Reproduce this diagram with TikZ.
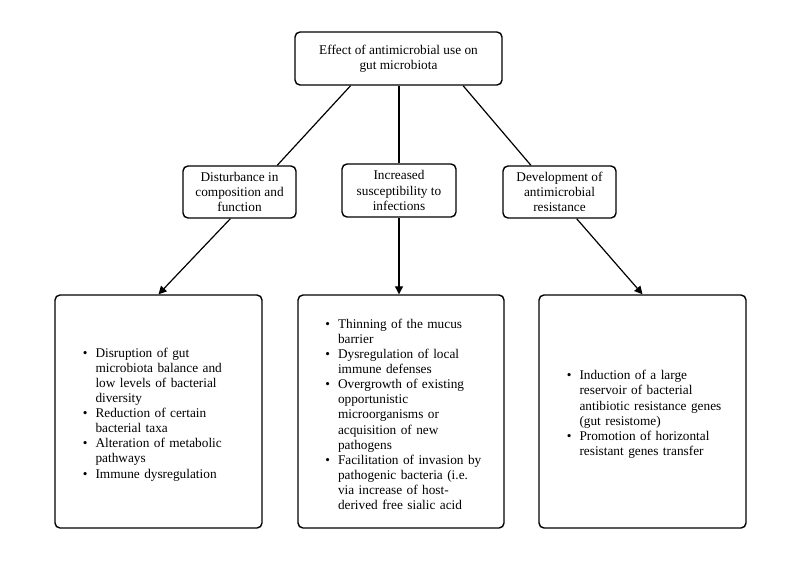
\documentclass[tikz,border=0pt]{standalone}
\usepackage{fontspec}
\setmainfont{Liberation Serif}
\usepackage{enumitem}
\usetikzlibrary{calc,arrows.meta}
\setlist[itemize]{nosep,leftmargin=12pt,labelsep=8pt,rightmargin=-20pt}
\tikzset{
	box/.style={draw, line width=1.4pt, rounded corners=5pt, align=center, font=\fontsize{13.3}{15.1}\selectfont},
	listbox/.style={draw, line width=1.4pt, rounded corners=5pt, text width=150pt, align=left, font=\fontsize{13.3}{15.1}\selectfont},
	link/.style={line width=1.2pt},
	arrowlink/.style={line width=1.2pt, -{Triangle[length=8pt,width=8pt]}}
}

\begin{document}
\begin{tikzpicture}[x=1pt,y=-1pt]
			%%%%% START %%%%%
			\def\wtop{207}
			\def\wmid{113}
			\def\hmid{52}
			\def\wlow{207}
			\def\hlow{233}
			\def\ymid{192}
			\def\ylow{411.5}
			
			\useasboundingbox[fill=white] (0,0) rectangle (800,560);
			
			\node[box, minimum width=\wtop, minimum height=53] (effect) at (398.5,58.5) {Effect of antimicrobial use on\\gut microbiota};
			
			\node[box, minimum width=\wmid, minimum height=\hmid] (disturb) at (239.5,\ymid) {Disturbance in\\composition and\\function};
			\node[box, minimum width=114, minimum height=53] (suscept) at (399,190.5) {Increased\\susceptibility to\\infections};
			\node[box, minimum width=\wmid, minimum height=\hmid] (resist) at (559.5,\ymid) {Development of\\antimicrobial\\resistance};
			
			\node[listbox, minimum width=\wlow, minimum height=\hlow] (disturblist) at (158.5,\ylow) {
				\begin{itemize}
					\item Disruption of gut\newline microbiota balance and\newline low levels of bacterial\newline diversity
					\item Reduction of certain\newline bacterial taxa
					\item Alteration of metabolic\newline pathways
					\item Immune dysregulation
				\end{itemize}};
			\node[listbox, minimum width=206, minimum height=\hlow] (susceptlist) at (401,\ylow) {
				\begin{itemize}
					\item Thinning of the mucus\newline barrier
					\item Dysregulation of local\newline immune defenses
					\item Overgrowth of existing\newline opportunistic\newline microorganisms or\newline acquisition of new\newline pathogens
					\item Facilitation of invasion by\newline pathogenic bacteria (i.e.\newline via increase of host-\newline derived free sialic acid
				\end{itemize}};
			\node[listbox, minimum width=\wlow, minimum height=\hlow] (resistlist) at (642.5,\ylow) {
				\begin{itemize}
					\item Induction of a large\newline reservoir of bacterial\newline antibiotic resistance genes\newline (gut resistome)
					\item Promotion of horizontal\newline resistant genes transfer
				\end{itemize}};
			
			\draw[link] ($(effect.south west)!0.27!(effect.south east)$) -- ($(disturb.north west)!0.83!(disturb.north east)$);
			\draw[link] (effect.south -| suscept.north) -- (suscept.north);
			\draw[link] ($(effect.south west)!0.81!(effect.south east)$) -- ($(resist.north west)!0.25!(resist.north east)$);
			
			\draw[arrowlink] ($(disturb.south west)!0.42!(disturb.south east)$) -- (disturblist.north);
			\draw[arrowlink] (suscept.south) -- (suscept.south |- susceptlist.north);
			\draw[arrowlink] ($(resist.south west)!0.65!(resist.south east)$) -- (resistlist.north);
			%%%%% END %%%%%
\end{tikzpicture}
\end{document}
